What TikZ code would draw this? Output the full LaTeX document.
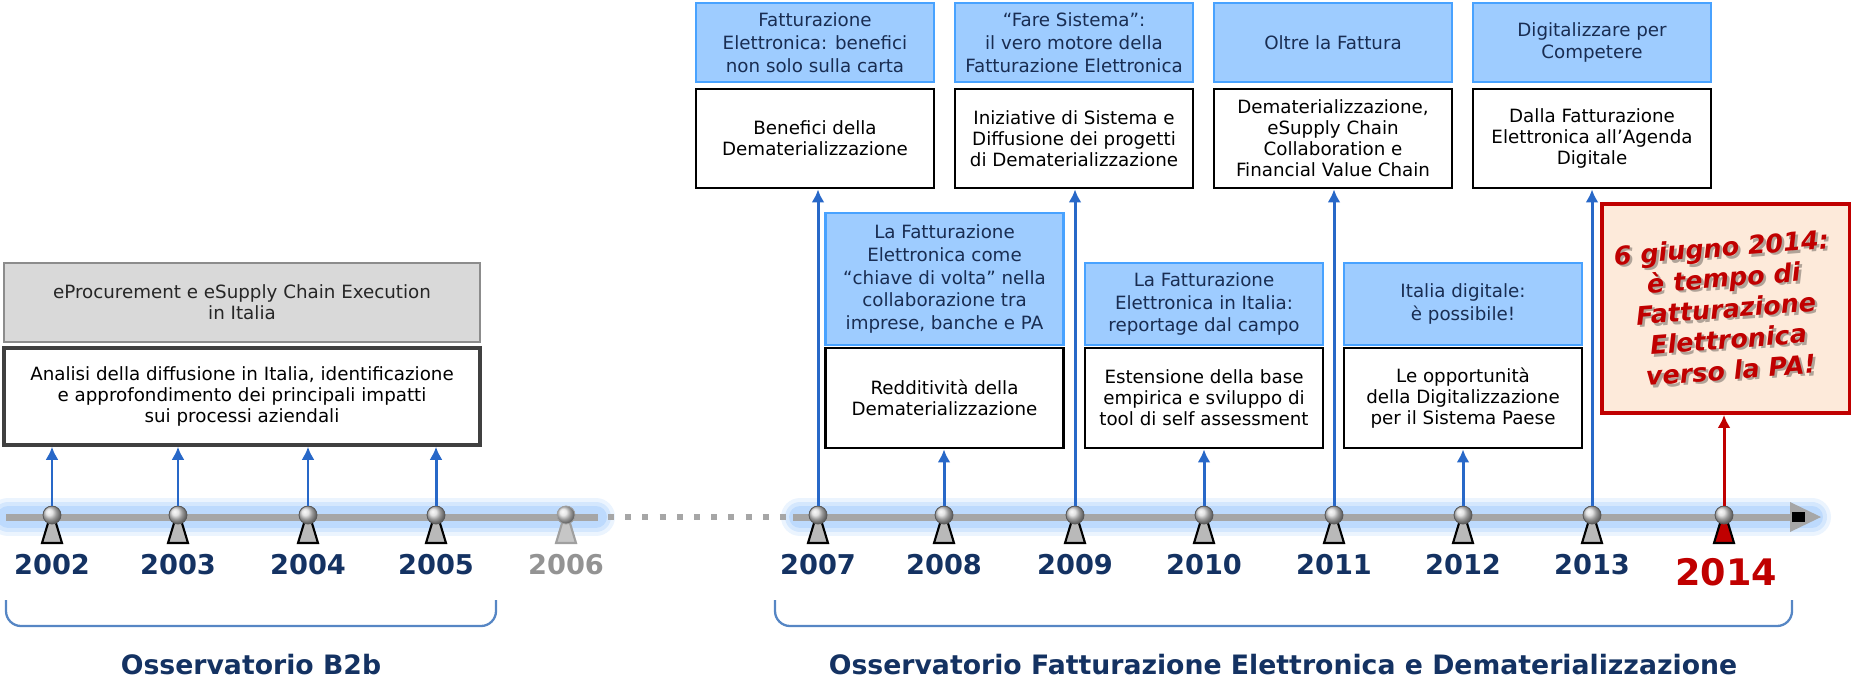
\documentclass[tikz,border=0pt]{standalone}
\usepackage{fontspec}
\setmainfont{DejaVu Sans}
\usepackage{tikz}
\usetikzlibrary{arrows.meta}
\usepackage{color}
\definecolor{Navy}{RGB}{20,50,98}
\definecolor{TitleText}{RGB}{25,45,82}
\definecolor{TitleFill}{RGB}{158,204,255}
\definecolor{TitleLine}{RGB}{72,162,255}
\definecolor{ArrowBlue}{RGB}{40,104,200}
\definecolor{BarGray}{RGB}{166,166,166}
\definecolor{GlowBlue}{RGB}{120,180,250}
\definecolor{BraceBlue}{RGB}{86,134,196}
\definecolor{GrayFill}{RGB}{217,217,217}
\definecolor{GrayLine}{RGB}{140,140,140}
\definecolor{MainRed}{RGB}{192,0,0}
\definecolor{Peach}{RGB}{253,234,218}

\newcommand{\boxtitlefont}{\fontsize{10.4}{13}\selectfont}
\newcommand{\boxbodyfont}{\fontsize{10.4}{12}\selectfont}
\newcommand{\yearfont}{\fontsize{15.5}{15.5}\selectfont\bfseries}
\newcommand{\bigyearfont}{\fontsize{20.8}{20.8}\selectfont\bfseries}
\newcommand{\obsfont}{\fontsize{15.2}{15.2}\selectfont\bfseries}
\newcommand{\msgfont}{\fontsize{14.5}{17.5}\selectfont\bfseries\itshape}

\tikzset{
  titlebox/.style={draw=TitleLine, fill=TitleFill, line width=1.5pt, text=TitleText, align=center, inner sep=1pt, minimum width=4.76cm, font=\boxtitlefont},
  bodybox/.style={draw=black, fill=white, line width=1.6pt, align=center, inner sep=1pt, minimum width=4.76cm, font=\boxbodyfont},
  graybox/.style={draw=GrayLine, fill=GrayFill, line width=1.3pt, text=black!85, align=center, minimum width=9.52cm, font=\boxbodyfont},
  whitebox/.style={draw=black!75, fill=white, line width=2pt, align=center, minimum width=9.52cm, font=\boxbodyfont},
  knob/.style={circle, inner sep=0pt, minimum size=0.36cm, ball color=gray!30, draw=black!65, line width=0.5pt},
  peg/.style={draw=black, fill=gray!55, line width=1.2pt, line join=miter},
  yearlbl/.style={text=Navy, font=\yearfont},
  obslbl/.style={text=Navy, font=\obsfont},
  upline/.style={-{Latex[length=2.6mm,width=2.6mm]}, draw=ArrowBlue, line width=1.7pt},
  axisbar/.style={draw=BarGray, line width=0.14cm},
  axisglow/.style={draw=GlowBlue, line cap=round},
  obsbrace/.style={draw=BraceBlue, line width=1.3pt, rounded corners=0.3cm},
}

\begin{document}
\begin{tikzpicture}[x=0.02cm, y=-0.02cm]
    \useasboundingbox (0,0) rectangle (1851,683);

    % glow round the time axis
    \draw[axisglow, line width=0.76cm, opacity=0.15] (  8,517) -- ( 596,517);
    \draw[axisglow, line width=0.60cm, opacity=0.20] (  8,517) -- ( 596,517);
    \draw[axisglow, line width=0.44cm, opacity=0.25] (  8,517) -- ( 596,517);
    \draw[axisglow, line width=0.76cm, opacity=0.15] (800,517) -- (1812,517);
    \draw[axisglow, line width=0.60cm, opacity=0.20] (800,517) -- (1812,517);
    \draw[axisglow, line width=0.44cm, opacity=0.25] (800,517) -- (1812,517);

    % time axis
    \draw[axisbar] (  6,517) -- ( 598,517);
    \draw[draw=BarGray, line width=0.12cm, dash pattern=on 0.12cm off 0.224cm] (608,517) -- (786,517);
    \draw[axisbar] (793,517) -- (1792,517);
    \fill[BarGray] (1790,502) -- (1821,517) -- (1790,532) -- cycle;
    \fill[black]   (1792,512) rectangle (1805,522);

    % observatory braces
    \draw[obsbrace] (  6,600) -- (  6,626) -- ( 496,626) -- ( 496,600);
    \draw[obsbrace] (775,600) -- (775,626) -- (1792,626) -- (1792,600);
    \node[obslbl] (lB2b) at ( 251,665) {Osservatorio B2b};
    \node[obslbl] (lFE)  at (1283,665) {Osservatorio Fatturazione Elettronica e Dematerializzazione};

    % boxes
    \node[graybox,  minimum height=1.58cm] (gProc) at ( 242,302.5) {eProcurement e eSupply Chain Execution\\in Italia};
    \node[whitebox, minimum height=1.94cm] (wAnal) at ( 242,396.5) {Analisi della diffusione in Italia, identificazione\\e approfondimento dei principali impatti\\sui processi aziendali};

    \node[titlebox, minimum height=1.58cm] (tA) at ( 815, 42.5) {Fatturazione\\Elettronica: benefici\\non solo sulla carta};
    \node[bodybox,  minimum height=1.98cm] (bA) at ( 815,138.5) {Benefici della\\Dematerializzazione};
    \node[titlebox, minimum height=1.58cm] (tB) at (1074, 42.5) {“Fare Sistema”:\\il vero motore della\\Fatturazione Elettronica};
    \node[bodybox,  minimum height=1.98cm] (bB) at (1074,138.5) {Iniziative di Sistema e\\Diffusione dei progetti\\di Dematerializzazione};
    \node[titlebox, minimum height=1.58cm] (tC) at (1333, 42.5) {Oltre la Fattura};
    \node[bodybox,  minimum height=1.98cm] (bC) at (1333,138.5) {Dematerializzazione,\\eSupply Chain\\Collaboration e\\Financial Value Chain};
    \node[titlebox, minimum height=1.58cm] (tD) at (1592, 42.5) {Digitalizzare per\\Competere};
    \node[bodybox,  minimum height=1.98cm] (bD) at (1592,138.5) {Dalla Fatturazione\\Elettronica all’Agenda\\Digitale};

    \node[titlebox, minimum height=2.64cm] (tE) at ( 944.5,279) {La Fatturazione\\Elettronica come\\“chiave di volta” nella\\collaborazione tra\\imprese, banche e PA};
    \node[bodybox,  minimum height=2.00cm] (bE) at ( 944.5,398) {Redditività della\\Dematerializzazione};
    \node[titlebox, minimum height=1.64cm] (tF) at (1204,  304) {La Fatturazione\\Elettronica in Italia:\\reportage dal campo};
    \node[bodybox,  minimum height=2.00cm] (bF) at (1204,  398) {Estensione della base\\empirica e sviluppo di\\tool di self assessment};
    \node[titlebox, minimum height=1.64cm] (tG) at (1463,  304) {Italia digitale:\\è possibile!};
    \node[bodybox,  minimum height=2.00cm] (bG) at (1463,  398) {Le opportunità\\della Digitalizzazione\\per il Sistema Paese};

    \node[draw=MainRed, fill=Peach, line width=2.2pt, minimum width=4.96cm, minimum height=4.18cm] (rMsg) at (1726,308.5) {};
    \node[text=black, opacity=0.3, font=\msgfont, align=center, rotate=4.5] (sMsg) at ([shift={(2.5,2.5)}]rMsg.center) {6 giugno 2014:\\è tempo di\\Fatturazione\\Elettronica\\verso la PA!};
    \node[text=MainRed, font=\msgfont, align=center, rotate=4.5] (tMsg) at (rMsg.center) {6 giugno 2014:\\è tempo di\\Fatturazione\\Elettronica\\verso la PA!};

    % year markers
    \draw[peg] (  52,510) -- ++(-10,33) -- ++(20,0) -- cycle;
    \draw[peg] ( 178,510) -- ++(-10,33) -- ++(20,0) -- cycle;
    \draw[peg] ( 308,510) -- ++(-10,33) -- ++(20,0) -- cycle;
    \draw[peg] ( 436,510) -- ++(-10,33) -- ++(20,0) -- cycle;
    \draw[peg, draw=gray!75, fill=gray!45] ( 566,510) -- ++(-10,33) -- ++(20,0) -- cycle;
    \draw[peg] ( 818,510) -- ++(-10,33) -- ++(20,0) -- cycle;
    \draw[peg] ( 944,510) -- ++(-10,33) -- ++(20,0) -- cycle;
    \draw[peg] (1075,510) -- ++(-10,33) -- ++(20,0) -- cycle;
    \draw[peg] (1204,510) -- ++(-10,33) -- ++(20,0) -- cycle;
    \draw[peg] (1334,510) -- ++(-10,33) -- ++(20,0) -- cycle;
    \draw[peg] (1463,510) -- ++(-10,33) -- ++(20,0) -- cycle;
    \draw[peg] (1592,510) -- ++(-10,33) -- ++(20,0) -- cycle;
    \draw[peg, fill=MainRed] (1724,510) -- ++(-10,33) -- ++(20,0) -- cycle;

    \node[knob] (p2002) at (  52,515) {};
    \node[knob] (p2003) at ( 178,515) {};
    \node[knob] (p2004) at ( 308,515) {};
    \node[knob] (p2005) at ( 436,515) {};
    \node[knob, ball color=gray!25, draw=gray!75] (p2006) at ( 566,515) {};
    \node[knob] (p2007) at ( 818,515) {};
    \node[knob] (p2008) at ( 944,515) {};
    \node[knob] (p2009) at (1075,515) {};
    \node[knob] (p2010) at (1204,515) {};
    \node[knob] (p2011) at (1334,515) {};
    \node[knob] (p2012) at (1463,515) {};
    \node[knob] (p2013) at (1592,515) {};
    \node[knob] (p2014) at (1724,515) {};

    \node[yearlbl] (y2002) at (  52,565) {2002};
    \node[yearlbl] (y2003) at ( 178,565) {2003};
    \node[yearlbl] (y2004) at ( 308,565) {2004};
    \node[yearlbl] (y2005) at ( 436,565) {2005};
    \node[yearlbl, text=gray!85] (y2006) at ( 566,565) {2006};
    \node[yearlbl] (y2007) at ( 818,565) {2007};
    \node[yearlbl] (y2008) at ( 944,565) {2008};
    \node[yearlbl] (y2009) at (1075,565) {2009};
    \node[yearlbl] (y2010) at (1204,565) {2010};
    \node[yearlbl] (y2011) at (1334,565) {2011};
    \node[yearlbl] (y2012) at (1463,565) {2012};
    \node[yearlbl] (y2013) at (1592,565) {2013};
    \node[yearlbl, text=MainRed, font=\bigyearfont] (y2014) at (1726,572) {2014};

    % arrows up to the boxes
    \draw[upline] (p2002) -- (p2002 |- wAnal.south);
    \draw[upline] (p2003) -- (p2003 |- wAnal.south);
    \draw[upline] (p2004) -- (p2004 |- wAnal.south);
    \draw[upline] (p2005) -- (p2005 |- wAnal.south);
    \draw[upline] (p2007) -- (p2007 |- bA.south);
    \draw[upline] (p2008) -- (p2008 |- bE.south);
    \draw[upline] (p2009) -- (p2009 |- bB.south);
    \draw[upline] (p2010) -- (p2010 |- bF.south);
    \draw[upline] (p2011) -- (p2011 |- bC.south);
    \draw[upline] (p2012) -- (p2012 |- bG.south);
    \draw[upline] (p2013) -- (p2013 |- bD.south);
    \draw[upline, draw=MainRed] (p2014) -- (p2014 |- rMsg.south);
\end{tikzpicture}
\end{document}
